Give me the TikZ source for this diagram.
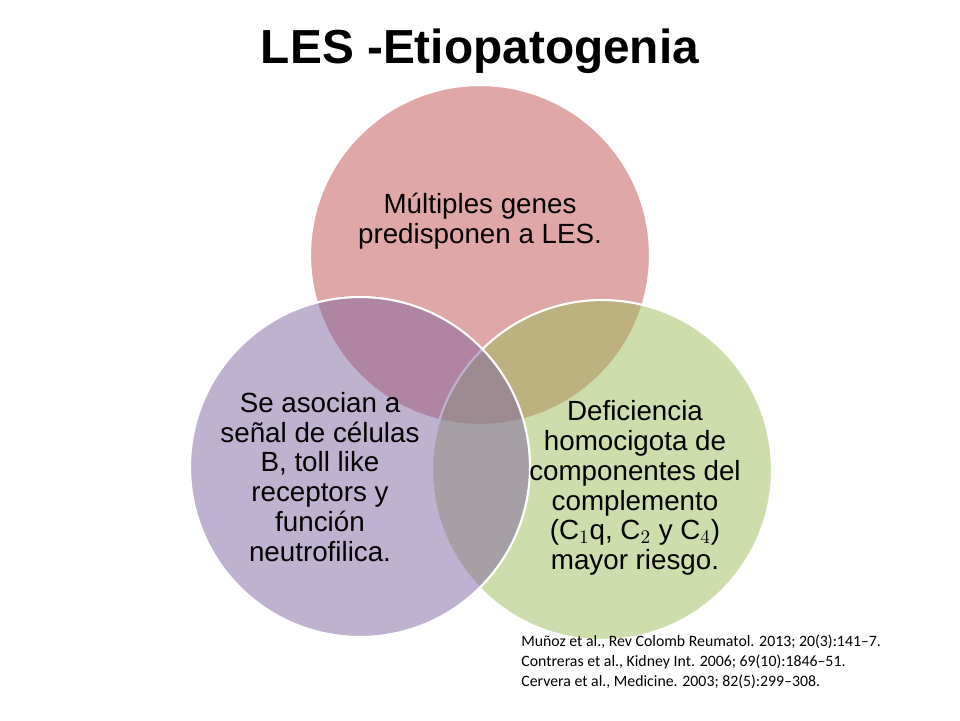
\documentclass[tikz,border=0pt]{standalone}
\usepackage{fontspec}
\setmainfont{Liberation Sans}
\newfontfamily\reffont{Carlito}
\usepackage{tikz}
\usetikzlibrary{positioning}
\definecolor{genesred}{RGB}{192,80,77}
\definecolor{bcellpurple}{RGB}{128,100,162}
\definecolor{complgreen}{RGB}{155,187,89}
\tikzstyle{v} = [circle, draw=white, line width=1.2pt, fill opacity=0.5, minimum size=6.8cm, inner sep=0pt]
\tikzstyle{t} = [align=center, text=black, font=\fontsize{15.8}{17}\selectfont]
\tikzstyle{h} = [black, font=\bfseries\fontsize{27.2}{32}\selectfont]
\tikzstyle{c} = [align=left, anchor=west, inner sep=0pt, font=\reffont\fontsize{9}{11.4}\selectfont]

\begin{document}
\begin{tikzpicture}[x=0.02cm, y=-0.02cm]
		\useasboundingbox (0,0) rectangle (960,720);

		\begin{scope}[every node/.style={v}]
			\node[fill=genesred]    (G) at (480,255) {};
			\node[fill=complgreen]  (C) at (602,470) {};
			\node[fill=bcellpurple] (B) at (360,467) {};
		\end{scope}

		\node[h, anchor=base] (title) at (480,63) {LES -Etiopatogenia};

		\begin{scope}[every node/.style={t}]
			\node (g) at (480,221) {Múltiples genes\\predisponen a LES.};
			\node (b) at (320,477) {Se asocian a\\señal de células\\B, toll like\\receptors y\\función\\neutrofilica.};
			\node (c) at (635,488) {Deficiencia\\homocigota de\\componentes del\\complemento\\(C$_1$q, C$_2$ y C$_4$)\\mayor riesgo.};
		\end{scope}

		\node[c] (refs) at (521,662) {Muñoz et al., Rev Colomb Reumatol. 2013; 20(3):141–7.\\Contreras et al., Kidney Int. 2006; 69(10):1846–51.\\Cervera et al., Medicine. 2003; 82(5):299–308.};
	\end{tikzpicture}
\end{document}
